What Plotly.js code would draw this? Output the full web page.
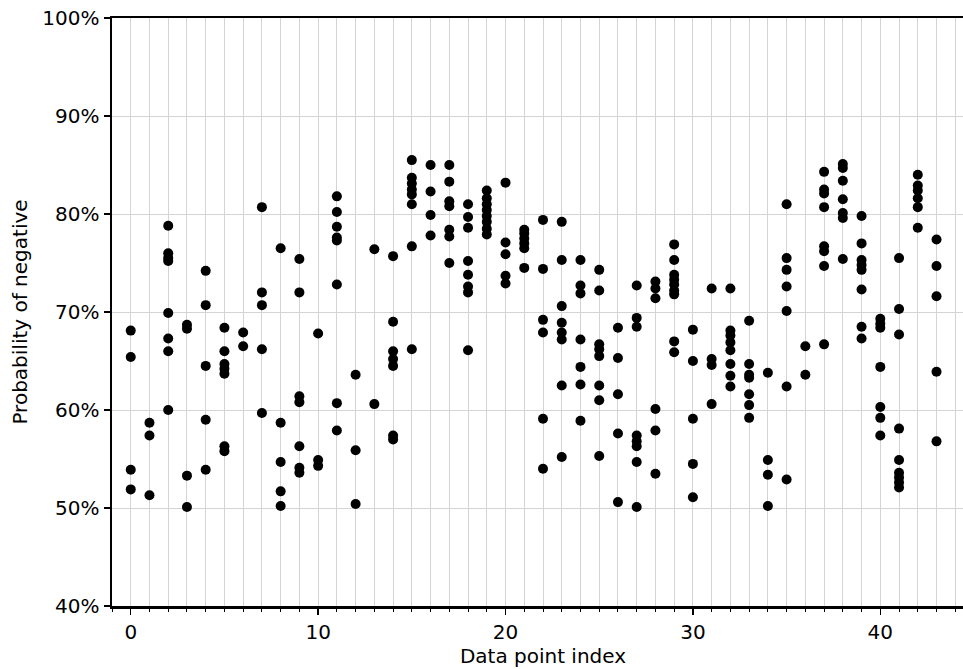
<!DOCTYPE html>
<html>
<head>
<meta charset="utf-8">
<script src="https://cdn.plot.ly/plotly-3.0.1.min.js"></script>
<style>
html, body { margin: 0; padding: 0; overflow: hidden; background: #fff; }
#chart { width: 980px; height: 669px; }
</style>
</head>
<body>
<div id="chart"></div>
<script>
// Data point index for each observation
const pointIndex = [
  0,0,0,0,
  1,1,1,
  2,2,2,2,2,2,2,2,
  3,3,3,3,
  4,4,4,4,4,
  5,5,5,5,5,5,5,
  6,6,
  7,7,7,7,7,
  8,8,8,8,8,
  9,9,9,9,9,9,9,
  10,10,10,
  11,11,11,11,11,11,11,11,
  12,12,12,
  13,13,
  14,14,14,14,14,14,14,
  15,15,15,15,15,15,15,15,
  16,16,16,16,
  17,17,17,17,17,17,17,
  18,18,18,18,18,18,18,18,
  19,19,19,19,19,19,19,19,
  20,20,20,20,20,
  21,21,21,21,21,21,
  22,22,22,22,22,22,
  23,23,23,23,23,23,23,23,
  24,24,24,24,24,24,24,
  25,25,25,25,25,25,25,25,
  26,26,26,26,26,
  27,27,27,27,27,27,27,27,
  28,28,28,28,28,28,
  29,29,29,29,29,29,29,29,29,
  30,30,30,30,30,
  31,31,31,31,
  32,32,32,32,32,32,32,32,
  33,33,33,33,33,33,33,
  34,34,34,34,
  35,35,35,35,35,35,35,
  36,36,
  37,37,37,37,37,37,37,37,
  38,38,38,38,38,38,38,
  39,39,39,39,39,39,39,39,
  40,40,40,40,40,40,40,
  41,41,41,41,41,41,41,41,41,
  42,42,42,42,42,42,
  43,43,43,43,43
];
// Probability of negative (%) for each observation
const probNegative = [
  68.1, 65.4, 53.9, 51.9,
  58.7, 57.4, 51.3,
  78.8, 76.0, 75.5, 75.2, 69.9, 67.3, 66.0, 60.0,
  68.7, 68.3, 53.3, 50.1,
  74.2, 70.7, 64.5, 59.0, 53.9,
  68.4, 66.0, 64.7, 64.2, 63.7, 56.3, 55.8,
  67.9, 66.5,
  80.7, 72.0, 70.7, 66.2, 59.7,
  76.5, 58.7, 54.7, 51.7, 50.2,
  75.4, 72.0, 61.4, 60.8, 56.3, 54.1, 53.6,
  67.8, 54.9, 54.3,
  81.8, 80.2, 78.7, 77.6, 77.3, 72.8, 60.7, 57.9,
  63.6, 55.9, 50.4,
  76.4, 60.6,
  75.7, 69.0, 66.0, 65.2, 64.5, 57.4, 57.0,
  85.5, 83.7, 83.1, 82.5, 82.0, 81.0, 76.7, 66.2,
  85.0, 82.3, 79.9, 77.8,
  85.0, 83.3, 81.3, 80.8, 78.4, 77.7, 75.0,
  81.0, 79.7, 78.6, 75.2, 73.8, 72.6, 72.0, 66.1,
  82.4, 81.6, 81.0, 80.4, 79.8, 79.2, 78.5, 77.9,
  83.2, 77.1, 75.9, 73.7, 72.9,
  78.4, 78.0, 77.5, 77.0, 76.5, 74.5,
  79.4, 74.4, 69.2, 67.9, 59.1, 54.0,
  79.2, 75.3, 70.6, 68.9, 67.9, 67.2, 62.5, 55.2,
  75.3, 72.7, 71.9, 67.2, 64.4, 62.6, 58.9,
  74.3, 72.2, 66.7, 66.2, 65.5, 62.5, 61.0, 55.3,
  68.4, 65.3, 61.6, 57.6, 50.6,
  72.7, 69.4, 68.5, 57.4, 56.8, 56.3, 54.7, 50.1,
  73.1, 72.4, 71.4, 60.1, 57.9, 53.5,
  76.9, 75.3, 73.8, 73.3, 72.8, 72.2, 71.8, 67.0, 65.9,
  68.2, 65.0, 59.1, 54.5, 51.1,
  72.4, 65.2, 64.6, 60.6,
  72.4, 68.1, 67.6, 66.9, 66.1, 64.7, 63.5, 62.4,
  69.1, 64.7, 63.6, 63.3, 61.6, 60.5, 59.2,
  63.8, 54.9, 53.4, 50.2,
  81.0, 75.5, 74.3, 72.6, 70.1, 62.4, 52.9,
  66.5, 63.6,
  84.3, 82.5, 82.1, 80.7, 76.7, 76.2, 74.7, 66.7,
  85.1, 84.7, 83.4, 81.5, 80.1, 79.6, 75.4,
  79.8, 77.0, 75.3, 74.8, 74.3, 72.3, 68.5, 67.3,
  69.3, 68.8, 68.4, 64.4, 60.3, 59.2, 57.4,
  75.5, 70.3, 67.7, 58.1, 54.9, 53.6, 53.1, 52.6, 52.1,
  84.0, 82.9, 82.4, 81.6, 80.7, 78.6,
  77.4, 74.7, 71.6, 63.9, 56.8
];
const xTitle = "Data point index";
const yTitle = "Probability of negative";

const font = "DejaVu Sans, Verdana, sans-serif";
const gridColor = "#d4d4d4";

const trace = {
  type: "scatter",
  mode: "markers",
  x: pointIndex,
  y: probNegative,
  marker: { color: "black", size: 10, line: { width: 0 } },
  hoverinfo: "x+y"
};

const layout = {
  width: 980,
  height: 669,
  margin: { l: 112, r: 6, t: 18, b: 63 },
  paper_bgcolor: "white",
  plot_bgcolor: "white",
  showlegend: false,
  font: { family: font, size: 20, color: "black" },
  xaxis: {
    range: [-1, 45],
    tickmode: "linear",
    tick0: 0,
    dtick: 10,
    ticks: "outside",
    ticklen: 6,
    tickwidth: 1.5,
    tickcolor: "black",
    showgrid: true,
    gridcolor: gridColor,
    gridwidth: 1,
    zeroline: false,
    showline: true,
    linecolor: "black",
    linewidth: 2.5,
    mirror: true,
    minor: {
      tick0: 0,
      dtick: 1,
      ticks: "outside",
      ticklen: 3,
      tickwidth: 1,
      tickcolor: "black",
      showgrid: true,
      gridcolor: gridColor,
      gridwidth: 1
    },
    tickfont: { family: font, size: 20, color: "black" },
    title: { text: xTitle, font: { family: font, size: 20, color: "black" }, standoff: 2 }
  },
  yaxis: {
    range: [40, 100],
    tickmode: "linear",
    tick0: 40,
    dtick: 10,
    ticksuffix: "%",
    ticks: "outside",
    ticklen: 6,
    tickwidth: 1.5,
    tickcolor: "black",
    showgrid: true,
    gridcolor: gridColor,
    gridwidth: 1,
    zeroline: false,
    showline: true,
    linecolor: "black",
    linewidth: 2.5,
    mirror: true,
    tickfont: { family: font, size: 20, color: "black" },
    title: { text: yTitle, font: { family: font, size: 20, color: "black" }, standoff: 10 }
  }
};

Plotly.newPlot("chart", [trace], layout, { displayModeBar: false, staticPlot: true });
</script>
</body>
</html>
